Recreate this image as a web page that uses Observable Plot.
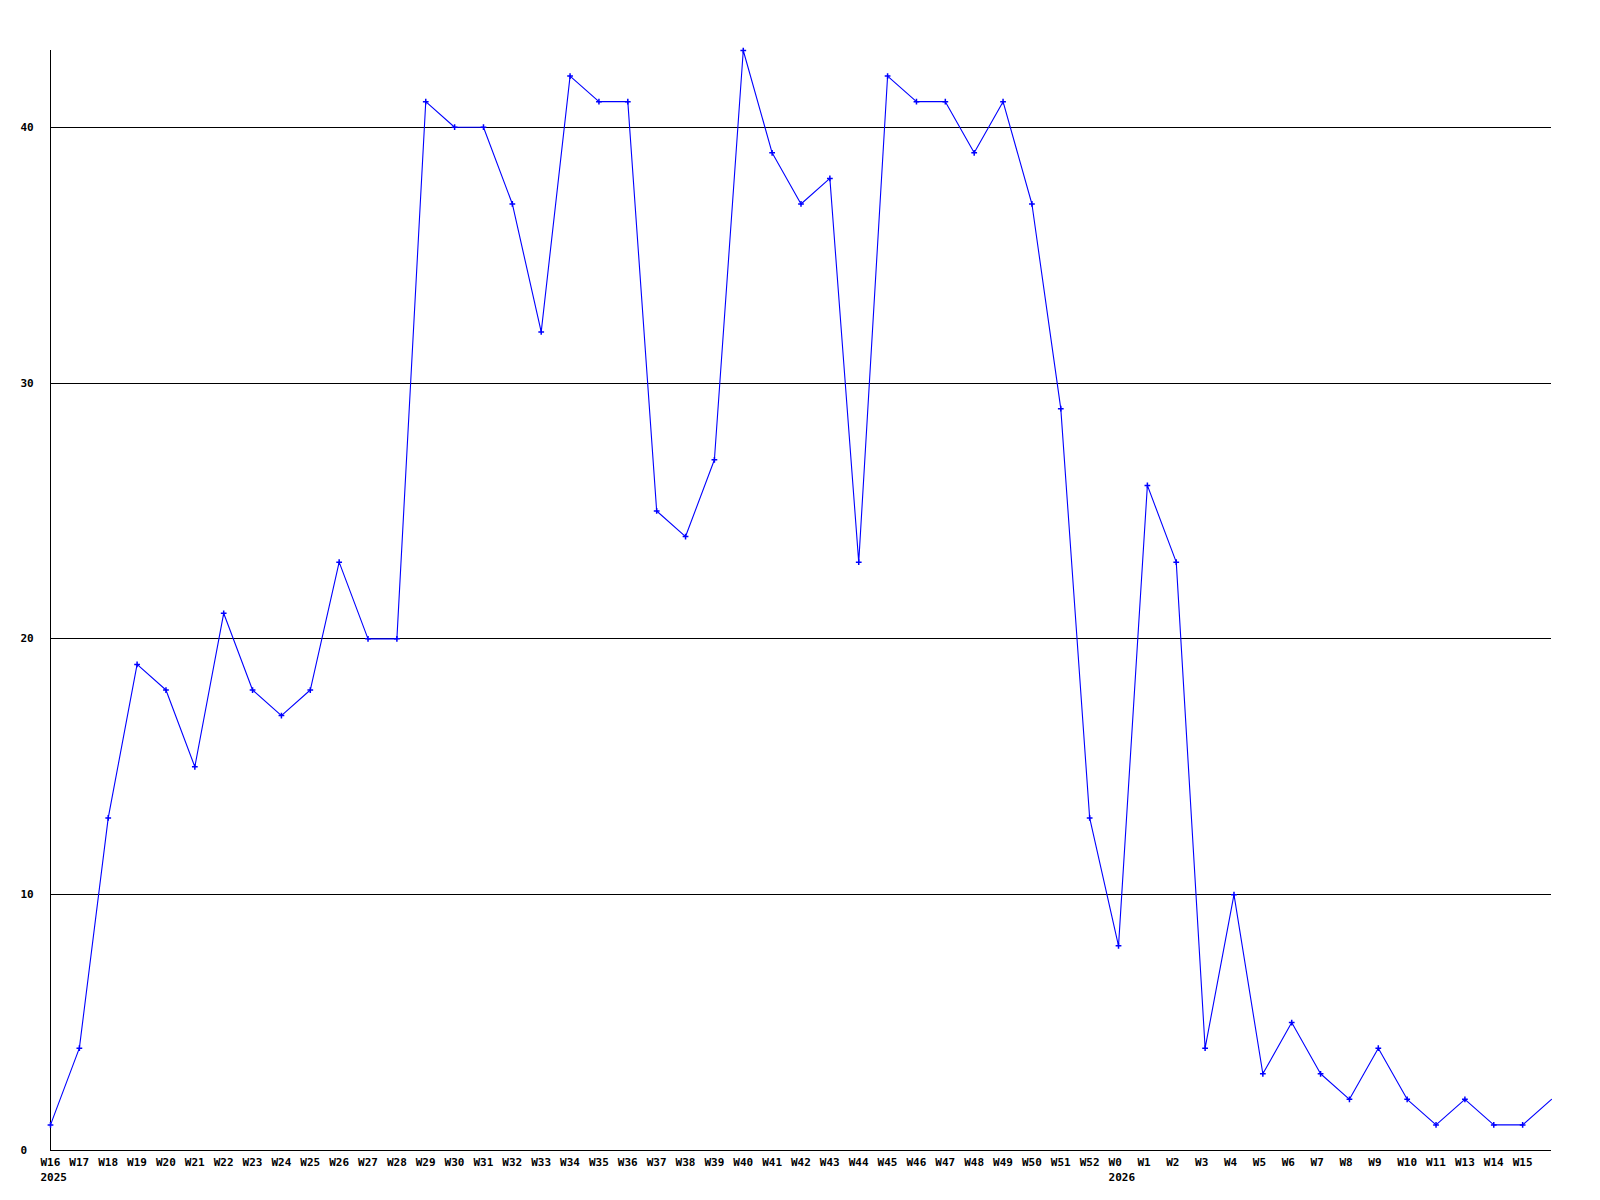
<!DOCTYPE html>
<html>
<head>
<meta charset="utf-8">
<script src="https://cdn.jsdelivr.net/npm/d3@7"></script>
<script src="https://cdn.jsdelivr.net/npm/@observablehq/plot@0.6"></script>
<style>
  html, body { margin: 0; padding: 0; background: #fff; }
  svg { display: block; }
</style>
</head>
<body>
<div id="chart"></div>
<script>
const weekLabels = ["W16","W17","W18","W19","W20","W21","W22","W23","W24","W25","W26","W27","W28","W29","W30","W31","W32","W33","W34","W35","W36","W37","W38","W39","W40","W41","W42","W43","W44","W45","W46","W47","W48","W49","W50","W51","W52","W0","W1","W2","W3","W4","W5","W6","W7","W8","W9","W10","W11","W13","W14","W15",""];
const values = [1,4,13,19,18,15,21,18,17,18,23,20,20,41,40,40,37,32,42,41,41,25,24,27,43,39,37,38,23,42,41,41,39,41,37,29,13,8,26,23,4,10,3,5,3,2,4,2,1,2,1,1,2];
const yearLabels = [{i: 0, year: "2025"}, {i: 37, year: "2026"}];
const yTicks = [0, 10, 20, 30, 40];
const gridValues = [10, 20, 30, 40];

const data = values.map((v, i) => ({i, v, label: weekLabels[i]}));
const font = "'DejaVu Sans Mono', monospace";

const chart = Plot.plot({
  width: 1600,
  height: 1200,
  marginLeft: 50,
  marginRight: 49,
  marginTop: 50,
  marginBottom: 50,
  style: {fontFamily: font, fontSize: "11px", fontWeight: "bold", background: "#fff"},
  x: {type: "linear", domain: [0, values.length - 1], axis: null},
  y: {type: "linear", domain: [0, 43], axis: null},
  marks: [
    Plot.ruleY(gridValues, {stroke: "#000", strokeWidth: 1, shapeRendering: "crispEdges"}),
    Plot.ruleX([0], {stroke: "#000", strokeWidth: 1, shapeRendering: "crispEdges"}),
    Plot.ruleY([0], {stroke: "#000", strokeWidth: 1, shapeRendering: "crispEdges"}),
    Plot.line(data, {x: "i", y: "v", stroke: "#0000ff", strokeWidth: 1.1}),
    Plot.dot(data.slice(0, -1), {x: "i", y: "v", symbol: "plus", r: 2, fill: "none", stroke: "#0000ff", strokeWidth: 1.5}),
    Plot.text(data, {x: "i", text: "label", frameAnchor: "bottom", dy: 12, dx: -10, textAnchor: "start", lineAnchor: "middle", fill: "#000", fontFamily: font, fontSize: 11, fontWeight: "bold"}),
    Plot.text(yearLabels, {x: "i", text: "year", frameAnchor: "bottom", dy: 27, dx: -10, textAnchor: "start", lineAnchor: "middle", fill: "#000", fontFamily: font, fontSize: 11, fontWeight: "bold"}),
    Plot.text(yTicks, {y: d => d, text: d => String(d), frameAnchor: "left", dx: -30, textAnchor: "start", lineAnchor: "middle", fill: "#000", fontFamily: font, fontSize: 11, fontWeight: "bold"})
  ]
});
document.getElementById("chart").appendChild(chart);
</script>
</body>
</html>
